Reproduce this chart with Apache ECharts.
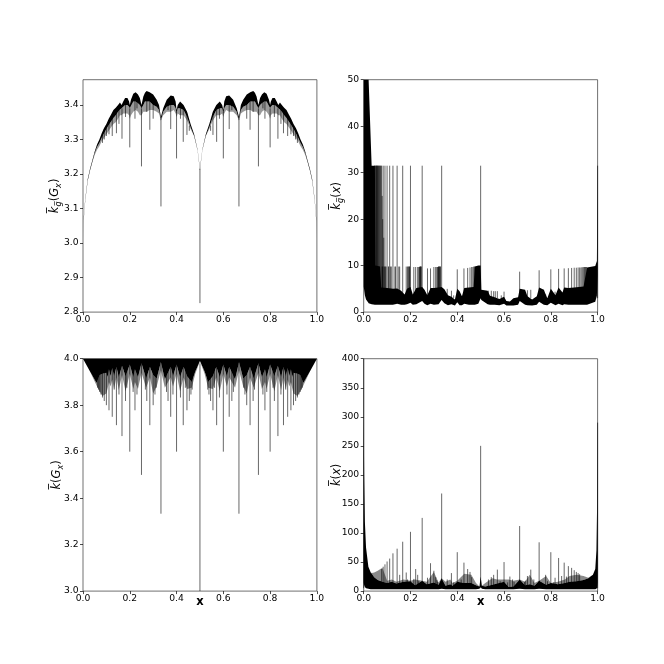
<!DOCTYPE html>
<html><head><meta charset="utf-8">
<style>html,body{margin:0;padding:0;background:#fff}#c{width:664px;height:664px}</style>
<script src="https://cdn.jsdelivr.net/npm/echarts@6/dist/echarts.min.js"></script>
</head><body><div id="c"></div>
<script>
// ---- tick labels ----
const xTickLabels = ['0.0','0.2','0.4','0.6','0.8','1.0'];
const aYTickLabels = ['2.8','2.9','3.0','3.1','3.2','3.3','3.4'];
const bYTickLabels = ['0','10','20','30','40','50'];
const cYTickLabels = ['3.0','3.2','3.4','3.6','3.8','4.0'];
const dYTickLabels = ['0','50','100','150','200','250','300','350','400'];

// ---- panel A: mean degree of G_x (envelope + dips) ----
const aBandX = [0,.003,.006,.01,.02,.03,.04,.05,.06,.07,.08,.09,.1,.11,.12,.13,.14,.15,.158,.165,.172,.18,.19,.197,.2,.205,.215,.225,.235,.243,.25,.258,.265,.272,.285,.3,.315,.325,.333,.343,.358,.375,.388,.396,.4,.405,.415,.43,.445,.46,.475,.49,.5,
 .51,.525,.54,.555,.57,.585,.595,.6,.604,.612,.625,.642,.657,.667,.675,.685,.7,.715,.728,.735,.742,.75,.757,.765,.775,.785,.795,.8,.803,.81,.82,.828,.835,.842,.85,.86,.87,.88,.89,.9,.91,.92,.93,.94,.95,.96,.97,.98,.99,.994,.997,1];
const aBandHi = [3.01,3.07,3.1,3.13,3.185,3.215,3.24,3.265,3.285,3.3,3.318,3.333,3.345,3.36,3.372,3.385,3.392,3.4,3.407,3.4,3.41,3.42,3.42,3.41,3.4,3.415,3.432,3.437,3.43,3.42,3.4,3.424,3.435,3.44,3.437,3.43,3.415,3.4,3.365,3.39,3.415,3.427,3.425,3.41,3.385,3.4,3.41,3.4,3.38,3.345,3.315,3.27,3.215,
 3.27,3.315,3.345,3.38,3.4,3.41,3.4,3.385,3.41,3.425,3.427,3.415,3.39,3.365,3.4,3.415,3.43,3.437,3.44,3.435,3.424,3.4,3.42,3.43,3.437,3.432,3.415,3.4,3.41,3.42,3.42,3.41,3.4,3.407,3.4,3.392,3.385,3.372,3.36,3.345,3.333,3.318,3.3,3.285,3.265,3.24,3.215,3.185,3.13,3.1,3.07,3.01];
const aBandLo = [3.01,3.065,3.095,3.125,3.18,3.21,3.235,3.26,3.278,3.29,3.305,3.318,3.33,3.342,3.352,3.362,3.37,3.38,3.387,3.39,3.395,3.4,3.4,3.395,3.39,3.397,3.41,3.41,3.405,3.4,3.39,3.4,3.41,3.41,3.41,3.4,3.395,3.385,3.355,3.38,3.395,3.4,3.4,3.39,3.375,3.39,3.39,3.385,3.365,3.335,3.31,3.268,3.21,
 3.268,3.31,3.335,3.365,3.385,3.39,3.39,3.375,3.39,3.4,3.4,3.395,3.38,3.355,3.385,3.395,3.4,3.41,3.41,3.41,3.4,3.39,3.4,3.405,3.41,3.41,3.397,3.39,3.395,3.4,3.4,3.395,3.39,3.387,3.38,3.37,3.362,3.352,3.342,3.33,3.318,3.305,3.29,3.278,3.26,3.235,3.21,3.18,3.125,3.095,3.065,3.01];
const aBandMid = [3.01,3.065,3.095,3.125,3.18,3.21,3.235,3.255,3.27,3.28,3.295,3.305,3.315,3.325,3.335,3.345,3.35,3.36,3.37,3.37,3.375,3.375,3.375,3.37,3.36,3.37,3.38,3.385,3.38,3.37,3.37,3.38,3.38,3.38,3.385,3.385,3.38,3.375,3.355,3.37,3.38,3.38,3.385,3.375,3.365,3.375,3.37,3.37,3.355,3.33,3.31,3.268,3.21,
 3.268,3.31,3.33,3.355,3.37,3.37,3.375,3.365,3.375,3.385,3.38,3.38,3.37,3.355,3.375,3.38,3.385,3.385,3.38,3.38,3.38,3.37,3.37,3.38,3.385,3.38,3.37,3.36,3.37,3.375,3.375,3.375,3.37,3.37,3.36,3.35,3.345,3.335,3.325,3.315,3.305,3.295,3.28,3.27,3.255,3.235,3.21,3.18,3.125,3.095,3.065,3.01];
const aSpikeX = [.5,.3333,.25,.4,.2,.1667,.4286,.1429,.125,.1111,.1,.0909,.0833,.2857,.375,.4444,.3,.2222,.1818,.2727,.4167,.3636,.2308,.1538,.4545,
 .6667,.75,.6,.8,.8333,.5714,.8571,.875,.8889,.9,.9091,.9167,.7143,.625,.5556,.7,.7778,.8182,.7273,.5833,.6364,.7692,.8462,.5455];
const aSpikeBase = [3.215,3.36,3.39,3.38,3.39,3.39,3.39,3.385,3.37,3.355,3.34,3.33,3.315,3.43,3.42,3.375,3.42,3.43,3.41,3.43,3.4,3.41,3.43,3.4,3.34,
 3.36,3.39,3.38,3.39,3.39,3.39,3.385,3.37,3.355,3.34,3.33,3.315,3.43,3.42,3.375,3.42,3.43,3.41,3.43,3.4,3.41,3.43,3.4,3.34];
const aSpikeTip = [2.826,3.106,3.222,3.245,3.277,3.302,3.293,3.318,3.31,3.315,3.31,3.3,3.29,3.328,3.33,3.313,3.36,3.36,3.365,3.38,3.36,3.385,3.39,3.345,3.325,
 3.106,3.222,3.245,3.277,3.302,3.293,3.318,3.31,3.315,3.31,3.3,3.29,3.328,3.33,3.313,3.36,3.36,3.365,3.38,3.36,3.385,3.39,3.345,3.325];

// ---- panel B: mean degree of the graph against x ----
const bBandX = [0,.005,.01,.02,.021,.034,.048,.05,.07,.075,.1,.125,.143,.16,.175,.185,.2,.21,.225,.25,.26,.272,.286,.3,.32,.333,.345,.36,.375,.39,.4,.41,.42,.43,.45,.47,.475,.49,.5,.503,.53,.54,.56,.58,.6,.61,.625,.64,.66,.667,.69,.7,.72,.74,.75,.77,.785,.8,.82,.833,.85,.857,.875,.9,.94,.955,.99,.997,1];
const bBandHi = [50,50,50,50,50,31.5,31.5,10,9.8,5.3,5.2,5,5.1,4.6,3.8,5,5.4,3.8,5.2,5.4,4.8,3.6,5.2,5.2,5.3,5.4,4.9,3.6,3.3,2.7,5,4.5,3.4,5.2,5.3,5.4,9.8,10,10,4.8,4.6,3.5,3.2,2.8,3.3,2.4,2.3,3,3.2,5,4.8,3.4,2.7,3.4,5.3,4.8,3,5,3.6,5.3,4.2,5.3,5.2,5.3,5.5,9.6,9.9,11,31.5];
const bBandLo = [5.5,3.6,2.7,2,1.9,1.7,1.6,1.6,1.6,1.6,1.6,1.6,1.8,1.6,1.6,1.7,2,1.6,1.7,2.4,1.8,1.5,1.8,1.6,1.7,2.6,1.9,1.5,1.7,1.4,2.1,1.5,1.5,1.8,1.6,1.6,1.6,1.8,3,2.6,1.7,1.6,1.6,1.5,1.8,1.4,1.4,1.4,1.6,2.4,1.6,1.5,1.4,1.6,2.2,1.6,1.5,2,1.5,1.8,1.5,1.7,1.6,1.6,1.6,1.6,2.2,3.5,8];
const bSpikeX = [.5,.3333,.25,.2,.1667,.1429,.125,.1111,.1,.0909,.0833,.0769,.0714,.0667,.0625,.0588,.0556,.0526,1,
 .0513,.0541,.0571,.0606,.0645,.069,.0741,.0488,.0465,.0789,.0811,.0857,
 .08,.087,.0952,.1053,.1176,.1333,.1538,.1818,.2222,.2857,.4,.0789,.0882,.0938,.1071,.1154,.1364,.15,.1875,.2143,.2308,.2727,.3,.375,.4286,
 .1905,.1935,.1951,.1967,.2353,.2381,.24,.2414,.2432,.2449,.2459,.3077,.3125,.3158,.3182,.32,.3214,.3226,.325,.3265,.3279,.4444,.4545,.4615,.4667,.4706,.4737,
 .6667,.75,.8,.8333,.8571,.875,.8889,.9,.9091,.9167,.9231,.9286,.9333,.9375,.9412,.9444,.9474,.95,.9524,
 .3571,.3846,.5333,.5455,.5556,.5625,.5714,.5882,.6,.6154,.6316,.7,.7143,.7273,.7692,.7778,.8182];
const bSpikeTip = [31.5,31.5,31.5,31.5,31.5,31.5,31.5,31.5,31.5,31.5,31.5,31.5,31.5,31.5,31.5,31.5,31.5,31.5,31.5,
 31.5,31.5,31.5,31.5,31.5,31.5,31.5,31.5,31.5,25,20,16,
 9.8,9.8,9.8,9.8,9.8,9.8,9.8,9.8,9.7,9.4,9.2,9.8,9.8,9.8,9.8,9.8,9.8,9.8,9.8,9.7,9.7,9.4,9.7,4.6,9.4,
 9.8,9.8,9.8,9.8,9.7,9.7,9.8,9.8,9.8,9.8,9.8,9.7,9.7,9.7,9.7,9.8,9.8,9.8,9.8,9.8,9.8,9.5,9.6,9.7,9.7,9.8,9.8,
 8.7,9,9.2,9.3,9.4,9.45,9.5,9.55,9.55,9.6,9.6,9.6,9.65,9.65,9.7,9.7,9.7,9.7,9.7,
 5,3.6,4.6,4.6,4.5,4.5,4.5,3.6,4.4,3,3,4.7,4.8,3,4.8,3.8,4.4];

// ---- panel C: mean degree of G_x, edge-based estimate ----
const cBandX = [0,.03,.058,.071,.083,.1,.106,.111,.118,.125,.133,.143,.153,.167,.182,.2,.215,.222,.235,.25,.27,.286,.3,.315,.333,.35,.375,.385,.4,.415,.43,.445,.465,.48,.5,
 .52,.535,.555,.57,.585,.6,.615,.625,.65,.667,.685,.7,.714,.73,.75,.765,.778,.785,.8,.818,.833,.847,.857,.867,.875,.882,.889,.894,.9,.917,.929,.942,.97,1];
const cBandLo = [4,3.945,3.895,3.93,3.935,3.94,3.92,3.955,3.925,3.96,3.925,3.965,3.92,3.97,3.925,3.975,3.92,3.955,3.92,3.98,3.915,3.965,3.93,3.915,3.985,3.91,3.965,3.925,3.975,3.92,3.965,3.925,3.9,3.945,3.99,
 3.945,3.9,3.925,3.965,3.92,3.975,3.925,3.965,3.91,3.985,3.915,3.93,3.965,3.915,3.98,3.92,3.955,3.92,3.975,3.925,3.97,3.92,3.965,3.925,3.96,3.925,3.955,3.92,3.94,3.935,3.93,3.895,3.945,4];
const cBandMid = [4,3.945,3.885,3.86,3.84,3.85,3.875,3.9,3.88,3.91,3.87,3.92,3.865,3.93,3.86,3.935,3.87,3.9,3.87,3.94,3.875,3.92,3.85,3.88,3.95,3.875,3.92,3.88,3.935,3.86,3.92,3.87,3.875,3.935,3.99,
 3.935,3.875,3.87,3.92,3.86,3.935,3.88,3.92,3.875,3.95,3.88,3.85,3.92,3.875,3.94,3.87,3.9,3.87,3.935,3.86,3.93,3.865,3.92,3.87,3.91,3.88,3.9,3.875,3.85,3.84,3.86,3.885,3.945,4];
const cSpikeX = [.5,.3333,.6667,.25,.75,.2,.4,.6,.8,.1667,.8333,.1429,.2857,.4286,.5714,.7143,.8571,.125,.375,.625,.875,.1111,.2222,.4444,.5556,.7778,.8889,.1,.3,.7,.9,
 .0909,.1818,.2727,.3636,.4545,.5455,.6364,.7273,.8182,.9091,.0833,.4167,.5833,.9167,.0769,.1538,.2308,.3077,.3846,.4615,.5385,.6154,.6923,.7692,.8462,.9231,
 .0714,.2143,.3571,.6429,.7857,.9286,.0667,.1333,.2667,.4667,.5333,.7333,.8667,.9333,.0625,.1875,.3125,.4375,.5625,.6875,.8125,.9375];
const cSpikeTip = [3,3.333,3.333,3.5,3.5,3.6,3.6,3.6,3.6,3.667,3.667,3.714,3.714,3.714,3.714,3.714,3.714,3.75,3.75,3.75,3.75,3.778,3.778,3.778,3.778,3.778,3.778,3.8,3.8,3.8,3.8,
 3.818,3.818,3.818,3.818,3.818,3.818,3.818,3.818,3.818,3.818,3.833,3.833,3.833,3.833,3.846,3.846,3.846,3.846,3.846,3.846,3.846,3.846,3.846,3.846,3.846,3.846,
 3.857,3.857,3.857,3.857,3.857,3.857,3.867,3.867,3.867,3.867,3.867,3.867,3.867,3.867,3.875,3.875,3.875,3.875,3.875,3.875,3.875,3.875];

// ---- panel D: edge-based estimate against x ----
const dBandX = [0,.002,.005,.01,.02,.03,.035,.045,.06,.08,.1,.12,.14,.17,.2,.22,.25,.27,.3,.32,.333,.35,.37,.38,.4,.43,.46,.48,.495,.5,.505,.52,.55,.57,.6,.62,.64,.667,.69,.71,.73,.75,.78,.8,.83,.86,.88,.91,.94,.96,.98,.99,.995,.998,1];
const dBandHi = [300,200,120,75,42,32,30,24,19,16,14,16,13,16,17,10,18,12,15,11,22,9,12,9,16,14,14,10,8,25,9,8,11,13,16,7,8,20,10,12,9,18,11,14,12,14,16,17,19,22,28,38,70,150,290];
const dBandLo = [15,10,7,5,4,3,3,3,3,3,3,3,3,3,3,3,3,3,3,3,4,3,3,3,3,3,3,3,4,7,4,3,3,3,3,3,3,4,3,3,3,4,3,3,3,3,3,3,3,3,3,3,4,6,15];
const dBandMid = [300,200,120,75,42,32,31,32,35,40,18,20,16,20,18,20,18,16,33,15,22,16,20,14,18,30,28,14,8,25,9,14,22,20,20,20,18,20,16,28,14,18,26,14,16,20,26,28,26,23,28,38,70,150,290];
const dSpikeX = [0,1,.5,.3333,.25,.2,.1667,.1429,.125,.1111,.1,.0909,.0833,.0769,.4,.4286,.4444,.4545,.2857,.3,.375,.2222,.1818,.2727,.2308,.1538,
 .6667,.75,.8,.8333,.8571,.875,.8889,.9,.9091,.9167,.9231,.6,.7143,.5714,.625,.6364,.5455,.5556,.5333,.7,.7778,.7273,.8182,.5833,
 .1875,.2143,.2353,.3077,.3125,.3158,.3571,.3846,.4615,.4167,.6154,.6429,.6875,.6923,.7857,.8125,.8462,.8667];
const dSpikeTip = [400,290,250,168,126,102,85,73,65,56,51,46,42,38,67,49,38,33,48,35,31,38,32,23,28,28,
 112,84,67,57,49,43,40,36,33,31,29,50,37,37,25,20,24,28,20,26,28,20,23,17,
 20,21,17,24,19,16,20,15,24,20,15,16,16,18,17,15,26,25];

// ---- layout and drawing ----
const FONT = 'DejaVu Sans';
const TICK_FONT = 9.2;
const spikeWidth = 0.6;

function bandSeries(idx, xs, top, bot, fill, z) {
  return {
    type: 'custom', xAxisIndex: idx, yAxisIndex: idx, silent: true, z,
    encode: { x: 0, y: [1, 2] }, animation: false,
    data: xs.map((x, i) => [x, top[i], bot[i]]),
    renderItem(params, api) {
      if (params.dataIndex !== 0) return null;
      const up = xs.map((x, i) => api.coord([x, top[i]]));
      const dn = xs.map((x, i) => api.coord([x, bot[i]])).reverse();
      return { type: 'polygon', shape: { points: up.concat(dn) }, style: { fill } };
    }
  };
}
function spikeSeries(idx, xs, base, tips) {
  const data = [];
  xs.forEach((x, i) => {
    data.push([x, Array.isArray(base) ? base[i] : base], [x, tips[i]], [x, null]);
  });
  return {
    type: 'line', xAxisIndex: idx, yAxisIndex: idx, data, showSymbol: false, symbol: 'none',
    connectNulls: false, animation: false, silent: true, z: 6, clip: true,
    lineStyle: { color: '#000', width: spikeWidth, cap: 'butt' }
  };
}

const LEFTS = [83, 363.7, 83, 363.7], TOPS = [79.7, 79.7, 358.7, 358.7];
const grids = LEFTS.map((l, i) => ({
  show: true, left: l, top: TOPS[i], width: 233.9, height: 232.4,
  borderColor: '#333', borderWidth: 0.7, backgroundColor: 'transparent', containLabel: false
}));
const rich = {
  k: { fontFamily: FONT, fontSize: 11.5, fontStyle: 'italic', color: '#000', lineHeight: 14, verticalAlign: 'top' },
  n: { fontFamily: FONT, fontSize: 11.5, color: '#000', lineHeight: 14, verticalAlign: 'top' },
  s: { fontFamily: FONT, fontSize: 8.2, fontStyle: 'italic', color: '#000', lineHeight: 14, verticalAlign: 'bottom' }
};
function xAxis(idx, name) {
  return {
    type: 'value', gridIndex: idx, min: 0, max: 1, interval: 0.2,
    name: name || '', nameLocation: 'middle', nameGap: 5, nameMoveOverlap: false,
    nameTextStyle: { fontFamily: FONT, fontSize: 11.5, fontWeight: 'bold', color: '#000' },
    splitLine: { show: false }, axisLine: { show: false },
    axisTick: { show: true, length: 3, lineStyle: { color: '#000', width: 0.7 }, customValues: xTickLabels.map(Number) },
    axisLabel: { margin: 3, fontFamily: FONT, fontSize: TICK_FONT, color: '#000', hideOverlap: false,
      customValues: xTickLabels.map(Number), formatter: v => v.toFixed(1) }
  };
}
function yAxis(idx, min, max, labels, decimals, name, gap) {
  const vals = labels.map(Number);
  return {
    type: 'value', gridIndex: idx, min, max,
    name, nameLocation: 'middle', nameRotate: 90, nameGap: gap, nameMoveOverlap: false,
    nameTextStyle: { rich, fontFamily: FONT, fontSize: 11.5, color: '#000' },
    splitLine: { show: false }, axisLine: { show: false },
    axisTick: { show: true, length: 3, lineStyle: { color: '#000', width: 0.7 }, customValues: vals },
    axisLabel: { margin: 4.5, fontFamily: FONT, fontSize: TICK_FONT, color: '#000', hideOverlap: false,
      customValues: vals, formatter: v => v.toFixed(decimals) }
  };
}

const option = {
  backgroundColor: '#fff', animation: false,
  grid: grids,
  xAxis: [xAxis(0), xAxis(1), xAxis(2, 'x'), xAxis(3, 'x')],
  yAxis: [
    yAxis(0, 2.8, 3.473, aYTickLabels, 1, '{k|k\u0305}{s|g\u0305}{n|(}{k|G}{s|x}{n|)}', 20),
    yAxis(1, 0, 50, bYTickLabels, 0, '{k|k\u0305}{s|g\u0305}{n|(}{k|x}{n|)}', 19),
    yAxis(2, 3, 4, cYTickLabels, 1, '{k|k\u0305}{n|(}{k|G}{s|x}{n|)}', 18),
    yAxis(3, 0, 400, dYTickLabels, 0, '{k|k\u0305}{n|(}{k|x}{n|)}', 19)
  ],
  series: [
    bandSeries(0, aBandX, aBandLo, aBandMid, '#9a9a9a', 3),
    bandSeries(0, aBandX, aBandHi, aBandLo, '#000', 4),
    spikeSeries(0, aSpikeX, aSpikeBase, aSpikeTip),
    bandSeries(1, bBandX, bBandHi, bBandLo, '#000', 4),
    spikeSeries(1, bSpikeX, 3, bSpikeTip),
    bandSeries(2, cBandX, cBandLo, cBandMid, '#8a8a8a', 3),
    bandSeries(2, cBandX, cBandLo.map(() => 4), cBandLo, '#000', 4),
    spikeSeries(2, cSpikeX, 3.98, cSpikeTip),
    bandSeries(3, dBandX, dBandMid, dBandHi, '#8a8a8a', 3),
    bandSeries(3, dBandX, dBandHi, dBandLo, '#000', 4),
    spikeSeries(3, dSpikeX, 5, dSpikeTip)
  ]
};
echarts.init(document.getElementById('c'), null, { renderer: 'canvas' }).setOption(option);
</script></body></html>
